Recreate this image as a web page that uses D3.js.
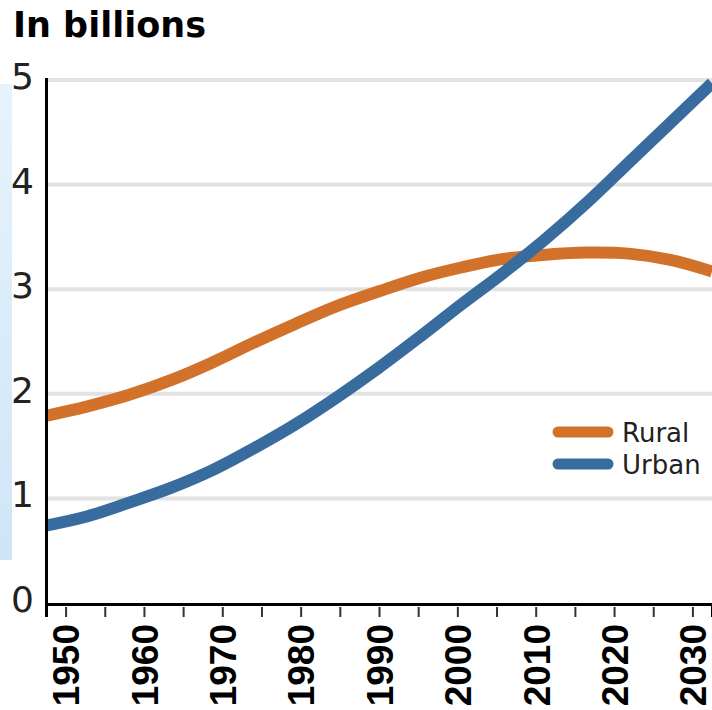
<!DOCTYPE html>
<html lang="en">
<head>
  <meta charset="UTF-8">
  <title>Urban and rural population</title>
  <script src="https://d3js.org/d3.v7.min.js"></script>
  <style>
    body { margin: 0; background: #fff; }
    svg { display: block; }
    .title { font-family: "DejaVu Sans", sans-serif; font-weight: bold; font-size: 35px; fill: #000; }
    .y-label { font-family: "DejaVu Sans", sans-serif; font-size: 36px; fill: #222; }
    .x-axis text { font-family: "Liberation Sans", Arial, sans-serif; font-weight: bold; font-size: 37px; fill: #000; }
    .legend-text { font-family: "DejaVu Sans", sans-serif; font-size: 26px; fill: #222; }
  </style>
</head>
<body>
<div id="chart"></div>
<script>
  // data (billions of people)
  const years = [1950, 1955, 1960, 1965, 1970, 1975, 1980, 1985, 1990, 1995, 2000, 2005, 2010, 2015, 2020, 2025, 2030];
  const rural = [1.79, 1.88, 1.99, 2.13, 2.30, 2.49, 2.67, 2.84, 2.98, 3.11, 3.21, 3.29, 3.33, 3.35, 3.34, 3.28, 3.17];
  const urban = [0.74, 0.83, 0.96, 1.10, 1.27, 1.48, 1.71, 1.97, 2.25, 2.55, 2.86, 3.16, 3.48, 3.83, 4.21, 4.59, 4.97];
  const yTicks = [0, 1, 2, 3, 4, 5];
  const seriesNames = ["Rural", "Urban"];
  const colors = { Rural: "#d2722a", Urban: "#386c9e" };

  const W = 712, H = 710;
  const plotLeft = 46, plotRight = 712, plotTop = 80, plotBottom = 603;

  const svg = d3.select("#chart").append("svg")
    .attr("width", W)
    .attr("height", H);

  // faint blue strip on the left edge
  const grad = svg.append("defs").append("linearGradient")
    .attr("id", "strip").attr("x1", 0).attr("y1", 0).attr("x2", 0).attr("y2", 1);
  grad.append("stop").attr("offset", 0).attr("stop-color", "#e6f3fc");
  grad.append("stop").attr("offset", 1).attr("stop-color", "#cfe5f7");
  svg.append("rect")
    .attr("x", 0).attr("y", 84).attr("width", 12).attr("height", 476)
    .attr("fill", "url(#strip)");

  const y = d3.scaleLinear().domain([0, 5]).range([plotBottom, plotTop]);
  const xLine = d3.scaleLinear().domain([years[0], years[years.length - 1]]).range([plotLeft, plotRight]);
  const xTick = d3.scalePoint().domain(years).range([plotLeft, plotRight]).padding(0.5);

  // title
  svg.append("text")
    .attr("class", "title")
    .attr("x", 13)
    .attr("y", 37)
    .text("In billions");

  // gridlines
  svg.selectAll(".grid")
    .data(yTicks.filter(d => d > 0))
    .enter().append("line")
    .attr("class", "grid")
    .attr("x1", plotLeft)
    .attr("x2", plotRight)
    .attr("y1", d => y(d))
    .attr("y2", d => y(d))
    .attr("stroke", "#e2e2e2")
    .attr("stroke-width", 4);

  // y labels
  svg.selectAll(".y-label")
    .data(yTicks)
    .enter().append("text")
    .attr("class", "y-label")
    .attr("x", 34)
    .attr("y", d => y(d) + 9)
    .attr("text-anchor", "end")
    .text(d => d);

  // lines
  const line = d3.line()
    .x(d => xLine(d[0]))
    .y(d => y(d[1]))
    .curve(d3.curveCatmullRom.alpha(0.5));

  const series = {
    Rural: years.map((yr, i) => [yr, rural[i]]),
    Urban: years.map((yr, i) => [yr, urban[i]])
  };

  seriesNames.forEach(name => {
    svg.append("path")
      .datum(series[name])
      .attr("d", line)
      .attr("fill", "none")
      .attr("stroke", colors[name])
      .attr("stroke-width", 12);
  });

  // x axis
  const xAxis = svg.append("g")
    .attr("class", "x-axis")
    .attr("transform", `translate(0,${plotBottom + 1})`)
    .call(d3.axisBottom(xTick).tickSizeOuter(0).tickSize(13)
      .tickFormat(d => d % 10 === 0 ? d : ""));

  xAxis.select(".domain")
    .attr("stroke", "#000")
    .attr("stroke-width", 3);
  xAxis.selectAll(".tick line")
    .attr("y1", 3)
    .attr("stroke", "#333")
    .attr("stroke-width", 2);
  xAxis.selectAll(".tick text")
    .attr("transform", "rotate(-90)")
    .attr("x", -20)
    .attr("y", 0)
    .attr("dy", "0.36em")
    .attr("text-anchor", "end");

  // y axis line
  svg.append("line")
    .attr("x1", plotLeft + 0.5).attr("x2", plotLeft + 0.5)
    .attr("y1", plotTop - 2).attr("y2", plotBottom + 3)
    .attr("stroke", "#000")
    .attr("stroke-width", 3);

  // legend
  const legend = svg.selectAll(".legend")
    .data(seriesNames)
    .enter().append("g")
    .attr("class", "legend")
    .attr("transform", (d, i) => `translate(0,${432 + i * 32})`);

  legend.append("line")
    .attr("x1", 558).attr("x2", 608)
    .attr("stroke", d => colors[d])
    .attr("stroke-width", 11)
    .attr("stroke-linecap", "round");

  legend.append("text")
    .attr("class", "legend-text")
    .attr("x", 622)
    .attr("y", 10)
    .text(d => d);
</script>
</body>
</html>
